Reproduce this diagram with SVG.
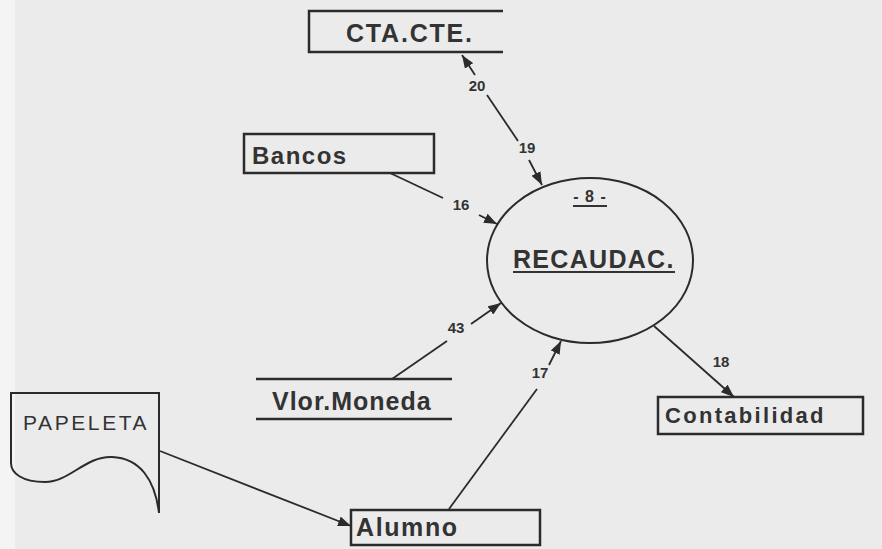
<svg xmlns="http://www.w3.org/2000/svg" width="882" height="549" viewBox="0 0 882 549">
<defs>
<marker id="ah" markerUnits="userSpaceOnUse" markerWidth="14" markerHeight="10" refX="13" refY="5" orient="auto">
<path d="M0,0 L13,5 L0,10 z" fill="#2b2b2b"/>
</marker>
<style>
.box{fill:none;stroke:#2b2b2b;stroke-width:2.5}
.ln{fill:none;stroke:#2b2b2b;stroke-width:1.8}
.lbl{font-family:"Liberation Sans",Arial,sans-serif;font-weight:bold;fill:#333;font-size:24px;letter-spacing:1.5px}
.num{font-family:"Liberation Sans",Arial,sans-serif;font-weight:bold;fill:#333;font-size:15px;text-anchor:middle}
</style>
</defs>
<rect x="0" y="0" width="882" height="549" fill="#ebebeb"/>
<rect x="0" y="0" width="15" height="549" fill="#f4f4f4"/>

<g id="connectors">
<path class="ln" d="M475,75 L462,55" marker-end="url(#ah)"/>
<path class="ln" d="M487,95 L518,141"/>
<path class="ln" d="M529,160 L542,185" marker-end="url(#ah)"/>
<path class="ln" d="M390,173 L443,198"/>
<path class="ln" d="M479,215 L497,224" marker-end="url(#ah)"/>
<path class="ln" d="M392,379 L447,341"/>
<path class="ln" d="M471,324 L501,303" marker-end="url(#ah)"/>
<path class="ln" d="M449,509 L537,389"/>
<path class="ln" d="M549,365 L561,341" marker-end="url(#ah)"/>
<path class="ln" d="M654,326 L734,397" marker-end="url(#ah)"/>
<path class="ln" d="M160,451 L351,526" marker-end="url(#ah)"/>
<text class="num" x="477" y="91">20</text>
<text class="num" x="527" y="153">19</text>
<text class="num" x="461" y="210">16</text>
<text class="num" x="456" y="333">43</text>
<text class="num" x="540" y="378">17</text>
<text class="num" x="721" y="367">18</text>
</g>

<g id="cta-cte">
<path class="box" d="M503,11 H309 V52 H503"/>
<text class="lbl" x="346" y="42" style="font-size:25px;letter-spacing:1.8px">CTA.CTE.</text>
</g>

<g id="bancos">
<rect class="box" x="244" y="134" width="190" height="39"/>
<text class="lbl" x="252" y="164">Bancos</text>
</g>

<g id="recaudac">
<ellipse cx="590" cy="260.5" rx="103" ry="82.5" fill="none" stroke="#2b2b2b" stroke-width="2"/>
<text class="lbl" x="590" y="202" style="font-size:16px;letter-spacing:1px;text-anchor:middle">- 8 -</text>
<line x1="573" y1="206" x2="607" y2="206" stroke="#333" stroke-width="1.8"/>
<text class="lbl" x="513" y="268" style="font-size:25px;letter-spacing:1.3px">RECAUDAC.</text>
<line x1="513" y1="272" x2="675" y2="272" stroke="#333" stroke-width="2"/>
</g>

<g id="vlor-moneda">
<line class="box" x1="256" y1="379" x2="452" y2="379"/>
<line class="box" x1="256" y1="419" x2="452" y2="419"/>
<text class="lbl" x="272" y="410" style="font-size:25px;letter-spacing:1px">Vlor.Moneda</text>
</g>

<g id="papeleta">
<path fill="none" stroke="#2b2b2b" stroke-width="2" d="M11,463 V393 H159 V513 C155,480 140,458 112,457 C85,456 70,482 45,482 C22,482 11,473 11,463 Z"/>
<text x="23" y="430" style="font-family:'Liberation Sans',Arial,sans-serif;font-size:21px;fill:#333;letter-spacing:2.6px">PAPELETA</text>
</g>

<g id="alumno">
<rect class="box" x="351" y="510" width="189" height="35"/>
<text class="lbl" x="356" y="536" style="font-size:25px;letter-spacing:1.6px">Alumno</text>
</g>

<g id="contabilidad">
<rect class="box" x="658" y="397" width="205" height="37"/>
<text class="lbl" x="665" y="423" style="font-size:22px;letter-spacing:2.3px">Contabilidad</text>
</g>
</svg>
